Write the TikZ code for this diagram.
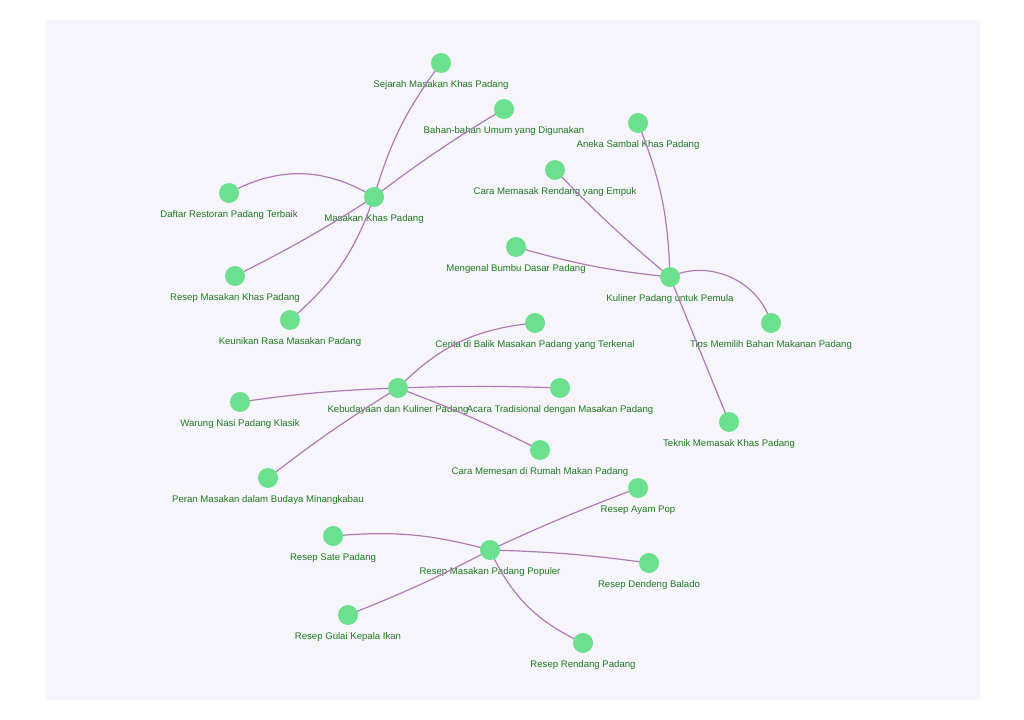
\documentclass[tikz,border=0pt]{standalone}
\usepackage{fontspec}
\setmainfont{Liberation Sans}
\begin{document}
\begin{tikzpicture}[x=0.75pt,y=-0.75pt,
  nd/.style={circle,fill=green!55!cyan!60!white,fill=dotc,inner sep=0pt,minimum size=15pt},
  lb/.style={font=\fontsize{7.2pt}{8pt}\selectfont,text=labc,inner sep=0pt},
  ed/.style={draw=edgec,line width=0.9pt}]
\definecolor{dotc}{HTML}{6BE08F}
\definecolor{labc}{HTML}{1E7A1E}
\definecolor{edgec}{HTML}{B07AB5}
\definecolor{bgc}{HTML}{F7F5FC}
\useasboundingbox (0,0) rectangle (1024,720);
\fill[white] (0,0) rectangle (1024,720);
\fill[bgc] (45,20) rectangle (980,700);
\foreach \n/\x/\y/\t in {
 sej/441/63/Sejarah Masakan Khas Padang,
 bah/504/109/Bahan-bahan Umum yang Digunakan,
 mkp/374/197/Masakan Khas Padang,
 daf/229/193/Daftar Restoran Padang Terbaik,
 rmk/235/276/Resep Masakan Khas Padang,
 keu/290/320/Keunikan Rasa Masakan Padang,
 ane/638/123/Aneka Sambal Khas Padang,
 cmr/555/170/Cara Memasak Rendang yang Empuk,
 men/516/247/Mengenal Bumbu Dasar Padang,
 kup/670/277/Kuliner Padang untuk Pemula,
 tip/771/323/Tips Memilih Bahan Makanan Padang,
 tek/729/422/Teknik Memasak Khas Padang,
 cer/535/323/Cerita di Balik Masakan Padang yang Terkenal,
 keb/398/388/Kebudayaan dan Kuliner Padang,
 war/240/402/Warung Nasi Padang Klasik,
 aca/560/388/Acara Tradisional dengan Masakan Padang,
 cme/540/450/Cara Memesan di Rumah Makan Padang,
 per/268/478/Peran Masakan dalam Budaya Minangkabau,
 ayp/638/488/Resep Ayam Pop,
 rmp/490/550/Resep Masakan Padang Populer,
 sat/333/536/Resep Sate Padang,
 den/649/563/Resep Dendeng Balado,
 gul/348/615/Resep Gulai Kepala Ikan,
 ren/583/643/Resep Rendang Padang}
 { \coordinate (\n) at (\x,\y); \node[lb] (\n-l) at (\x,\y+22) {\t}; }
\begin{scope}[every path/.style={ed}]
\draw (mkp) to[bend left=10] (sej);
\draw (mkp) to[bend left=3] (bah);
\draw (mkp) to[bend right=30] (daf);
\draw (mkp) to[bend left=3] (rmk);
\draw (mkp) to[bend left=15] (keu);
\draw (kup) to[bend right=10] (ane);
\draw (kup) to[bend left=3] (cmr);
\draw (kup) to[bend left=5] (men);
\draw (kup) to[bend left=50] (tip);
\draw (kup) to (tek);
\draw (keb) to[bend left=20] (cer);
\draw (keb) to[bend right=3] (war);
\draw (keb) to[bend left=2] (aca);
\draw (keb) to[bend left=3] (cme);
\draw (keb) to[bend right=3] (per);
\draw (rmp) to[bend left=2] (ayp);
\draw (rmp) to[bend right=10] (sat);
\draw (rmp) to[bend left=3] (den);
\draw (rmp) to[bend left=3] (gul);
\draw (rmp) to[bend right=20] (ren);
\end{scope}
\foreach \n in {sej,bah,mkp,daf,rmk,keu,ane,cmr,men,kup,tip,tek,cer,keb,war,aca,cme,per,ayp,rmp,sat,den,gul,ren}
  \node[nd] at (\n) {};
\foreach \n in {sej,bah,mkp,daf,rmk,keu,ane,cmr,men,kup,tip,tek,cer,keb,war,aca,cme,per,ayp,rmp,sat,den,gul,ren}
  \node[lb] at (\n-l) {\phantom{x}};
\end{tikzpicture}
\end{document}
